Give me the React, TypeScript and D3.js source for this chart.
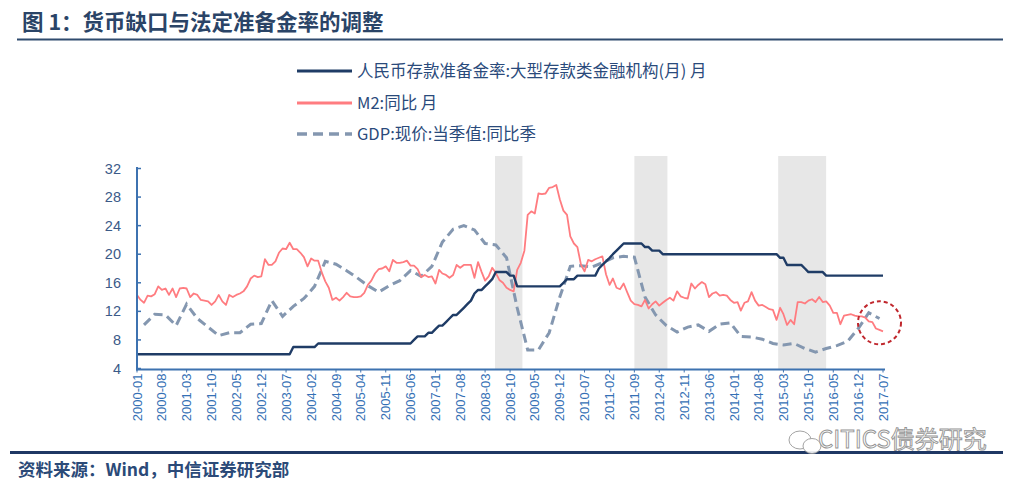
import React from "react";
import * as d3 from "d3";

// ---------- DATA ----------
const startMonth = "2000-01";
const endMonth = "2017-07";

// M2 YoY, monthly 2000-01 .. 2017-07
const m2Values: number[] = [
  14.3, 13.6, 13.2, 14.2, 14.1, 14.4, 15.5, 15.0, 15.2, 14.3, 15.2, 14.0,
  15.2, 15.3, 15.2, 14.0, 14.5, 14.3, 13.6, 13.5, 13.4, 12.9, 13.4, 14.3,
  13.4, 12.9, 14.3, 14.0, 14.3, 14.5, 14.8, 15.5, 16.6, 17.0, 16.8, 16.9,
  19.3, 18.5, 18.5, 19.0, 20.2, 20.8, 20.7, 21.6, 20.7, 20.7, 20.2, 19.6,
  18.3, 19.4, 19.1, 19.1, 17.5, 16.2, 15.3, 13.6, 13.9, 13.5, 14.0, 14.6,
  14.1, 14.0, 14.0, 14.1, 14.6, 15.7, 16.3, 17.3, 17.9, 18.0, 18.3, 17.6,
  19.2, 18.8, 18.8, 18.9, 19.1, 18.4, 18.4, 17.9, 16.8, 17.1, 16.8, 16.9,
  15.9, 17.8, 17.3, 17.1, 16.7, 17.1, 18.5, 18.1, 18.5, 18.5, 18.5, 16.7,
  18.9, 17.5, 16.3, 16.9, 18.1, 17.4, 16.4, 16.0, 15.3, 15.0, 14.8, 17.8,
  18.8, 20.5, 25.5, 26.0, 25.7, 28.5, 28.4, 28.5, 29.3, 29.4, 29.7, 27.7,
  26.1, 25.5, 22.5, 21.5, 21.0, 18.5, 17.6, 19.2, 19.0, 19.3, 19.5, 19.7,
  17.2, 15.7, 16.6, 15.3, 15.1, 15.9, 14.7, 13.5, 13.0, 12.9, 12.7, 13.6,
  12.4, 13.0, 13.4, 12.8, 13.2, 13.6, 13.9, 13.5, 14.8, 14.1, 13.9, 13.8,
  15.9, 15.2, 15.7, 16.1, 15.8, 14.0, 14.5, 14.7, 14.2, 14.3, 14.2, 13.6,
  13.2, 13.3, 12.1, 13.2, 13.4, 14.7, 13.5, 12.8, 12.9, 12.6, 12.3, 12.2,
  10.8, 12.5, 11.6, 10.1, 10.8, 10.2, 13.3, 13.3, 13.1, 13.5, 13.7, 13.3,
  14.0, 13.3, 13.4, 12.8, 11.8, 11.8, 10.2, 11.4, 11.5, 11.6, 11.4, 11.3,
  11.3, 11.1, 10.6, 10.5, 9.6, 9.4, 9.2,
];

// Reserve requirement ratio (large institutions): month when level changed
const rrrChanges: [string, number][] = [
  ["2000-01", 6], ["2003-09", 7], ["2004-04", 7.5], ["2006-07", 8], ["2006-08", 8.5],
  ["2006-11", 9], ["2007-01", 9.5], ["2007-02", 10], ["2007-04", 10.5], ["2007-05", 11],
  ["2007-06", 11.5], ["2007-08", 12], ["2007-09", 12.5], ["2007-10", 13], ["2007-11", 13.5],
  ["2007-12", 14.5], ["2008-01", 15], ["2008-03", 15.5], ["2008-04", 16], ["2008-05", 16.5],
  ["2008-06", 17.5], ["2008-10", 17], ["2008-12", 15.5], ["2010-01", 16], ["2010-02", 16.5],
  ["2010-05", 17], ["2010-11", 18], ["2010-12", 18.5], ["2011-01", 19], ["2011-02", 19.5],
  ["2011-03", 20], ["2011-04", 20.5], ["2011-05", 21], ["2011-06", 21.5], ["2011-12", 21],
  ["2012-02", 20.5], ["2012-05", 20], ["2015-02", 19.5], ["2015-04", 18.5], ["2015-09", 18],
  ["2015-10", 17.5], ["2016-03", 17],
];

// Nominal GDP YoY, quarterly (quarter-end month)
const gdpMonths: string[] = [
  "2000-03", "2000-06", "2000-09", "2000-12", "2001-03", "2001-06", "2001-09", "2001-12",
  "2002-03", "2002-06", "2002-09", "2002-12", "2003-03", "2003-06", "2003-09", "2003-12",
  "2004-03", "2004-06", "2004-09", "2004-12", "2005-03", "2005-06", "2005-09", "2005-12",
  "2006-03", "2006-06", "2006-09", "2006-12", "2007-03", "2007-06", "2007-09", "2007-12",
  "2008-03", "2008-06", "2008-09", "2008-12", "2009-03", "2009-06", "2009-09", "2009-12",
  "2010-03", "2010-06", "2010-09", "2010-12", "2011-03", "2011-06", "2011-09", "2011-12",
  "2012-03", "2012-06", "2012-09", "2012-12", "2013-03", "2013-06", "2013-09", "2013-12",
  "2014-03", "2014-06", "2014-09", "2014-12", "2015-03", "2015-06", "2015-09", "2015-12",
  "2016-03", "2016-06", "2016-09", "2016-12", "2017-03", "2017-06",
];
const gdpValues: number[] = [
  10.1, 11.6, 11.5, 10.0, 13.0, 11.0, 9.8, 8.6,
  9.0, 9.0, 10.2, 10.3, 13.5, 11.3, 12.7, 13.8,
  15.5, 19.0, 18.6, 17.7, 16.7, 15.6, 14.7, 15.6,
  16.3, 17.7, 16.9, 18.3, 21.7, 23.5, 24.0, 23.4,
  21.5, 21.3, 19.5, 12.5, 6.6, 6.6, 9.0, 14.0,
  18.3, 18.4, 18.2, 18.8, 19.5, 19.7, 19.6, 14.0,
  11.5, 10.0, 9.1, 9.8, 10.1, 9.2, 10.2, 10.4,
  8.5, 8.4, 8.1, 7.5, 7.3, 7.5, 6.8, 6.3,
  6.8, 7.2, 7.8, 9.6, 11.8, 11.0,
];

// Shaded periods (tightening windows)
const shadeStarts: string[] = ["2008-05-25", "2011-09-01", "2015-01-15"];
const shadeEnds: string[] = ["2009-01-15", "2012-06-10", "2016-03-01"];

const xTickLabels: string[] = [
  "2000-01", "2000-08", "2001-03", "2001-10", "2002-05", "2002-12", "2003-07", "2004-02",
  "2004-09", "2005-04", "2005-11", "2006-06", "2007-01", "2007-08", "2008-03", "2008-10",
  "2009-05", "2009-12", "2010-07", "2011-02", "2011-09", "2012-04", "2012-11", "2013-06",
  "2014-01", "2014-08", "2015-03", "2015-10", "2016-05", "2016-12", "2017-07",
];
const yTicks: number[] = [4, 8, 12, 16, 20, 24, 28, 32];

const legendLabels: string[] = [
  "人民币存款准备金率:大型存款类金融机构(月) 月",
  "M2:同比 月",
  "GDP:现价:当季值:同比季",
];
const titleText = "图 1：货币缺口与法定准备金率的调整";
const sourceText = "资料来源：Wind，中信证券研究部";
const watermarkText = "CITICS债券研究";
const circleAt: [string, number] = ["2017-06", 10.4];

// ---------- HELPERS ----------
const parseM = d3.timeParse("%Y-%m");
const parseD = d3.timeParse("%Y-%m-%d");
const allMonths = d3.timeMonth.range(parseM(startMonth)!, d3.timeMonth.offset(parseM(endMonth)!, 1));

export default function App() {
  const W = 1021, H = 490;
  const x = d3.scaleTime().domain([parseM(startMonth)!, parseM(endMonth)!]).range([137, 883]);
  const y = d3.scaleLinear().domain([4, 32]).range([368.5, 168.5]);

  const m2Data = allMonths.map((d, i) => ({ d, v: m2Values[i] })).filter((p) => p.v != null);

  const rrrData = allMonths.map((d) => {
    let v = rrrChanges[0][1];
    for (const [m, val] of rrrChanges) if (parseM(m)! <= d) v = val;
    return { d, v };
  });

  const gdpData = gdpMonths.map((m, i) => ({ d: parseM(m)!, v: gdpValues[i] }));

  const line = d3
    .line<{ d: Date; v: number }>()
    .x((p) => x(p.d))
    .y((p) => y(p.v));

  const navy = "#1F3C66";
  const pink = "#FF7C80";
  const gdpCol = "#8497B0";
  const axisCol = "#3D72B0";
  const fontLatin = "'Liberation Sans', Arial, 'Noto Sans CJK SC', sans-serif";
  const fontCJK = "'Noto Sans CJK SC', 'Liberation Sans', sans-serif";

  const shadeTop = y(33.75);
  const axisY = 369.5;

  return (
    <svg
      width={W}
      height={H}
      viewBox={`0 0 ${W} ${H}`}
      style={{ position: "absolute", left: 0, top: 0, background: "#fff" }}
    >
      <rect x={0} y={0} width={W} height={H} fill="#fff" />
      {/* Title */}
      <text x={22} y={30} fontFamily={fontCJK} fontWeight={700} fontSize={21.5} fill="#2A4467">
        {titleText}
      </text>
      <line x1={17} x2={1003} y1={39.5} y2={39.5} stroke="#2F4B6E" strokeWidth={2} />

      {/* shaded periods */}
      {shadeStarts.map((s, i) => (
        <rect
          key={i}
          x={x(parseD(s)!)}
          y={shadeTop}
          width={x(parseD(shadeEnds[i])!) - x(parseD(s)!)}
          height={axisY - shadeTop}
          fill="#E7E7E7"
        />
      ))}

      {/* legend */}
      <g fontFamily={fontCJK} fontSize={16.5} fill="#2A4A7B">
        <line x1={297} x2={352} y1={71} y2={71} stroke={navy} strokeWidth={3} />
        <text x={357} y={71} dy="0.35em">{legendLabels[0]}</text>
        <line x1={297} x2={352} y1={103} y2={103} stroke={pink} strokeWidth={3} />
        <text x={357} y={103} dy="0.35em">{legendLabels[1]}</text>
        <line x1={297} x2={352} y1={134} y2={134} stroke={gdpCol} strokeWidth={3.5} strokeDasharray="10,6" />
        <text x={357} y={134} dy="0.35em">{legendLabels[2]}</text>
      </g>

      {/* series */}
      <path d={line(gdpData)!} fill="none" stroke={gdpCol} strokeWidth={3} strokeDasharray="9,5" />
      <path d={line(m2Data)!} fill="none" stroke={pink} strokeWidth={1.8} strokeLinejoin="round" />
      <path d={line(rrrData)!} fill="none" stroke={navy} strokeWidth={2.4} strokeLinejoin="round" />

      {/* axes */}
      <line x1={137} x2={137} y1={167} y2={axisY + 1} stroke={axisCol} strokeWidth={2} />
      {yTicks.map((t) => (
        <g key={t}>
          <line x1={137} x2={141} y1={y(t)} y2={y(t)} stroke={axisCol} strokeWidth={1.5} />
          <text
            x={121}
            y={y(t)}
            dy="0.35em"
            textAnchor="end"
            fontFamily={fontLatin}
            fontSize={14.5}
            fill="#3B5A88"
          >
            {t}
          </text>
        </g>
      ))}
      <line x1={136} x2={885} y1={axisY} y2={axisY} stroke={axisCol} strokeWidth={2} />
      {xTickLabels.map((lab) => {
        const xx = x(parseM(lab)!);
        return (
          <g key={lab}>
            <line x1={xx} x2={xx} y1={axisY} y2={axisY + 3} stroke={axisCol} strokeWidth={1} />
            <text
              transform={`translate(${xx},${axisY + 4}) rotate(-90)`}
              dy="0.35em"
              textAnchor="end"
              fontFamily={fontLatin}
              fontSize={13}
              fill="#3470B5"
            >
              {lab}
            </text>
          </g>
        );
      })}

      {/* highlight circle */}
      <circle
        cx={x(parseM(circleAt[0])!)}
        cy={y(circleAt[1])}
        r={21.5}
        fill="none"
        stroke="#C0272D"
        strokeWidth={2}
        strokeDasharray="4,3"
      />

      {/* footer */}
      <line x1={10} x2={1003} y1={452.5} y2={452.5} stroke="#1F3864" strokeWidth={3} />
      <text x={18} y={476} fontFamily={fontCJK} fontSize={17.5} fontWeight={700} fill="#2B4A78">
        {sourceText}
      </text>

      {/* watermark */}
      <g opacity={0.9}>
        <ellipse cx={800} cy={440} rx={11} ry={9} fill="#fff" stroke="#9A9A9A" strokeWidth={1} />
        <ellipse cx={812} cy={446} rx={9} ry={7.5} fill="#fff" stroke="#9A9A9A" strokeWidth={1} />
        <text
          x={818}
          y={448}
          fontFamily={fontCJK}
          fontSize={24}
          fill="#fff"
          stroke="#8A8A8A"
          strokeWidth={0.9}
        >
          {watermarkText}
        </text>
      </g>
    </svg>
  );
}
